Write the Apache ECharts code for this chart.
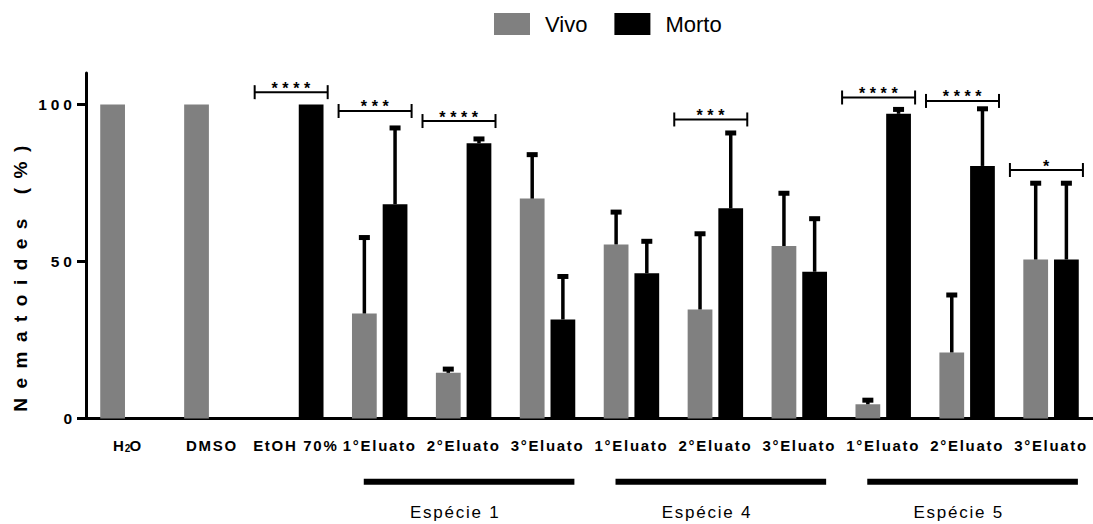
<!DOCTYPE html>
<html>
<head>
<meta charset="utf-8">
<script src="https://cdn.jsdelivr.net/npm/echarts@6/dist/echarts.min.js"></script>
<style>
html,body{margin:0;padding:0;background:#fff}
#chart{width:1093px;height:524px}
</style>
</head>
<body>
<div id="chart"></div>
<script>
// ---------- data ----------
const categories = ['H₂O','DMSO','EtOH 70%','1°Eluato','2°Eluato','3°Eluato','1°Eluato','2°Eluato','3°Eluato','1°Eluato','2°Eluato','3°Eluato'];
const seriesNames = ['Vivo','Morto'];
const vivo       = [100, 100, 0,   33.4, 14.5, 70.0, 55.4, 34.7, 54.9, 4.5,  21.0, 50.6];
const vivoUpper  = [null,null,null,57.6, 15.7, 84.0, 65.7, 58.8, 71.7, 5.8,  39.3, 74.9];
const morto      = [0,   0,   100, 68.2, 87.6, 31.5, 46.2, 66.9, 46.7, 97.0, 80.4, 50.6];
const mortoUpper = [null,null,null,92.5, 89.0, 45.2, 56.4, 90.9, 63.6, 98.4, 98.6, 74.9];
const yTicks = [0, 50, 100];
const yTitle = 'Nematoides (%)';
const sigCategory = [2, 3, 4, 7, 9, 10, 11];
const sigLevel    = [103.9, 97.9, 94.7, 95.2, 102.2, 101.1, 79.1];
const sigLabel    = ['****','***','****','***','****','****','*'];
const groupNames = ['Espécie 1','Espécie 4','Espécie 5'];
const groupFirst = [3, 6, 9];
const groupLast  = [5, 8, 11];

// ---------- style ----------
const FONT = "'Liberation Sans', Arial, sans-serif";
const GRAY = '#808080', BLACK = '#000000';
const BAR_FRAC = 0.295, GAP_FRAC = 0.24;
const SPACING = {'15':1.7, '15.5':4, '19':9.5, '17':1.75, '16':4.6};

const errData = [];
vivo.forEach((v,i)=>{ if (vivoUpper[i] != null) errData.push([i, vivoUpper[i], v, 0]); });
morto.forEach((v,i)=>{ if (mortoUpper[i] != null) errData.push([i, mortoUpper[i], v, 1]); });
const sigData = sigCategory.map((c,i)=>[c, sigLevel[i]]);
const groupData = groupFirst.map((f,i)=>[f, groupLast[i]]);

function renderErr(params, api){
  const cat = api.value(0), hi = api.value(1), val = api.value(2), side = api.value(3);
  const band = api.size([1,0])[0];
  const off = band*BAR_FRAC*(1+GAP_FRAC)/2*(side ? 1 : -1);
  const p0 = api.coord([cat,val]), p1 = api.coord([cat,hi]);
  const x = p0[0] + off;
  return {type:'group', children:[
    {type:'line', shape:{x1:x,y1:p0[1],x2:x,y2:p1[1]}, style:{stroke:BLACK,lineWidth:3.5}},
    {type:'line', shape:{x1:x-5.5,y1:p1[1],x2:x+5.5,y2:p1[1]}, style:{stroke:BLACK,lineWidth:5}}
  ]};
}
function renderSig(params, api){
  const cat = api.value(0), lvl = api.value(1);
  const band = api.size([1,0])[0];
  const p = api.coord([cat,lvl]);
  const x1 = p[0]-0.49*band, x2 = p[0]+0.38*band, y = p[1];
  return {type:'group', children:[
    {type:'line', shape:{x1:x1,y1:y,x2:x2,y2:y}, style:{stroke:BLACK,lineWidth:2}},
    {type:'line', shape:{x1:x1,y1:y-7,x2:x1,y2:y+7}, style:{stroke:BLACK,lineWidth:2}},
    {type:'line', shape:{x1:x2,y1:y-7,x2:x2,y2:y+7}, style:{stroke:BLACK,lineWidth:2}},
    {type:'text', style:{text:sigLabel[params.dataIndex], x:(x1+x2)/2 + 2, y:y-4, fill:BLACK,
      font:"bold 16px "+FONT, align:'center', verticalAlign:'middle'}}
  ]};
}
function renderGroup(params, api){
  const i = params.dataIndex;
  const first = api.value(0), last = api.value(1);
  const band = api.size([1,0])[0];
  const a = api.coord([first,0]), b = api.coord([last,0]);
  const mid = api.coord([Math.round((first+last)/2),0]);
  const lineY = a[1] + 63.4;
  return {type:'group', children:[
    {type:'line', shape:{x1:a[0]-0.19*band, y1:lineY, x2:b[0]+0.32*band, y2:lineY}, style:{stroke:BLACK,lineWidth:6}},
    {type:'text', style:{text:groupNames[i], x:mid[0]-0.1*band, y:a[1]+94, fill:BLACK,
      font:"17px "+FONT, align:'center', verticalAlign:'middle'}}
  ]};
}

const chart = echarts.init(document.getElementById('chart'), null, {renderer:'svg'});
const option = {
  animation:false,
  backgroundColor:'#fff',
  legend:{
    data:seriesNames, left:494, top:13, padding:0, itemWidth:36, itemHeight:22, itemGap:27,
    icon:'rect', selectedMode:false,
    textStyle:{fontFamily:FONT, fontSize:22, color:BLACK, padding:[0,0,0,10]}
  },
  grid:{left:86, top:73, width:1016, bottom:105.6, containLabel:false},
  xAxis:{
    type:'category', data:categories,
    axisLine:{lineStyle:{color:BLACK,width:3}},
    axisTick:{alignWithLabel:true, length:8, lineStyle:{color:BLACK,width:3}},
    axisLabel:{interval:0, margin:20, color:BLACK, fontFamily:FONT, fontWeight:'bold', fontSize:15,
      formatter:function(v){ return v==='H₂O' ? '{n|H}{s|2}{n|O}' : v; },
      rich:{n:{fontFamily:FONT,fontWeight:'bold',fontSize:15,color:BLACK},
            s:{fontFamily:FONT,fontWeight:'bold',fontSize:10,color:BLACK,verticalAlign:'bottom'}}}
  },
  yAxis:{
    type:'value', min:0, max:110, interval:50,
    axisLine:{show:true, lineStyle:{color:BLACK,width:3}},
    axisTick:{show:true, length:9, lineStyle:{color:BLACK,width:3}, customValues:yTicks},
    axisLabel:{color:BLACK, fontFamily:FONT, fontWeight:'bold', fontSize:15.5, margin:10, customValues:yTicks},
    splitLine:{show:false}
  },
  graphic:[{type:'text', x:20, y:274, rotation:Math.PI/2, silent:true,
    style:{text:yTitle, font:"bold 19px "+FONT, fill:BLACK, align:'center', verticalAlign:'middle'}}],
  series:[
    {name:seriesNames[0], type:'bar', data:vivo, barWidth:(BAR_FRAC*100)+'%', barGap:(GAP_FRAC*100)+'%',
      itemStyle:{color:GRAY}, silent:true},
    {name:seriesNames[1], type:'bar', data:morto, barWidth:(BAR_FRAC*100)+'%', barGap:(GAP_FRAC*100)+'%',
      itemStyle:{color:BLACK}, silent:true},
    {type:'custom', data:errData, renderItem:renderErr, encode:{x:0,y:1}, clip:false, silent:true, z:5},
    {type:'custom', data:sigData, renderItem:renderSig, encode:{x:0,y:1}, clip:false, silent:true, z:5},
    {type:'custom', data:groupData, renderItem:renderGroup, encode:{x:0,y:1}, clip:false, silent:true, z:5}
  ]
};
chart.setOption(option);

function applySpacing(){
  document.querySelectorAll('#chart svg text').forEach(function(t){
    const fs = parseFloat(getComputedStyle(t).fontSize);
    const s = SPACING[String(fs)];
    if (s) t.setAttribute('letter-spacing', s);
  });
}
chart.on('finished', applySpacing);
chart.on('rendered', applySpacing);
applySpacing();
let n = 0;
(function loop(){ applySpacing(); if (++n < 30) requestAnimationFrame(loop); })();
</script>
</body>
</html>
